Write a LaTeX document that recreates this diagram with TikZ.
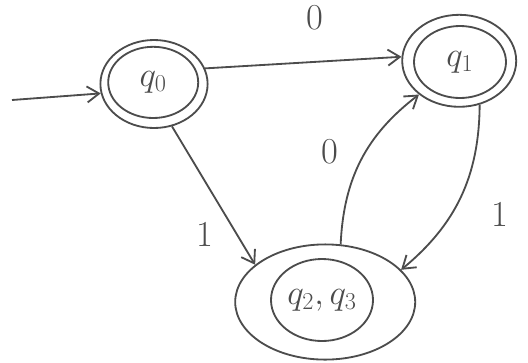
\documentclass[tikz,border=0pt]{standalone}
\usetikzlibrary{arrows.meta, positioning, shapes.geometric}

\begin{document}
\begin{tikzpicture}[>={Straight Barb[length=3mm, width=4mm]},
        ring/.style={draw=black!70, line width=1.3pt, ellipse, inner sep=0pt},
        lbl/.style={font=\fontsize{26}{30}\selectfont, text=black!70},
        arr/.style={->, draw=black!70, line width=1.3pt},
      ]
        \useasboundingbox (0,0) rectangle (13.2,9.05);

        % states: inner ring carries the name, outer ring around it
        \node[ring, lbl, minimum width=2.25cm, minimum height=1.78cm] (q0) at (3.83,6.99) {$q_0$};
        \node[ring, minimum width=2.68cm, minimum height=2.2cm] (q0o) at (3.85,6.95) {};
        \node[ring, lbl, minimum width=2.3cm, minimum height=1.8cm] (q1) at (11.5,7.5) {$q_1$};
        \node[ring, minimum width=2.85cm, minimum height=2.3cm] (q1o) at (11.48,7.53) {};
        \node[ring, lbl, minimum width=2.55cm, minimum height=2.05cm] (q23) at (8.05,1.55) {$q_2,q_3$};
        \node[ring, minimum width=4.5cm, minimum height=2.88cm] (q23o) at (8.13,1.5) {};

        \coordinate (start) at (0.3,6.55);

        \node[lbl] (l01) at (7.88,8.6) {0};
        \node[lbl] (l02) at (8.25,5.25) {0};
        \node[lbl] (l11) at (5.13,3.18) {1};
        \node[lbl] (l12) at (12.5,3.68) {1};

        \draw[arr] (start) -- (q0o.190);
        \draw[arr] (q0o.17) -- (q1o.176);
        \draw[arr] (q0o.-67) -- (q23o.152);
        \draw[arr] (q1o.-65) to[bend left=25] (q23o.23);
        \draw[arr] (q23o.75) to[bend left=25] (q1o.220);
      \end{tikzpicture}
\end{document}
